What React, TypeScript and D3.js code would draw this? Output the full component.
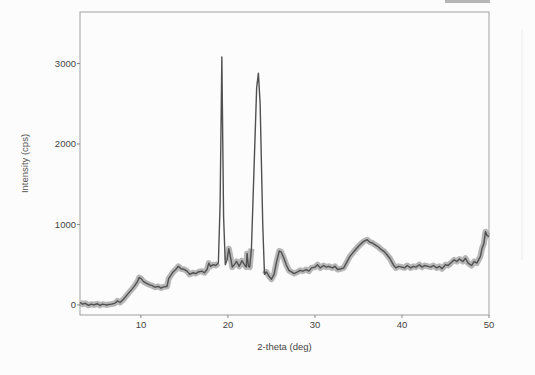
import React from "react";
import * as d3 from "d3";

const twoTheta = [
  3, 3.3, 3.6, 4, 4.3, 4.6, 5, 5.3, 5.6, 6, 6.3, 6.6, 7, 7.3, 7.6, 8, 8.3, 8.6, 9, 9.3, 9.6, 9.8, 10, 10.3, 10.6, 11, 11.3, 11.6,
  12, 12.3, 12.6, 13, 13.2, 13.4, 13.7, 14, 14.3, 14.6, 15, 15.3, 15.6, 16, 16.3, 16.6, 17, 17.3, 17.6, 17.8, 18, 18.3, 18.6, 18.9,
  19.1, 19.3, 19.5, 19.7, 19.9, 20.1, 20.3, 20.5, 20.8, 21, 21.3, 21.6, 21.9, 22.1, 22.2, 22.35, 22.5, 22.7, 23, 23.3, 23.5, 23.7,
  24, 24.2, 24.4, 24.7, 25, 25.3, 25.6, 25.9, 26.1, 26.4, 26.7, 27, 27.3, 27.6, 28, 28.3, 28.6, 29, 29.3, 29.6, 30, 30.3, 30.6,
  31, 31.3, 31.6, 32, 32.3, 32.6, 33, 33.3, 33.6, 34, 34.3, 34.6, 35, 35.3, 35.6, 36, 36.3, 36.6, 37, 37.3, 37.6, 38, 38.3, 38.6,
  39, 39.3, 39.6, 40, 40.3, 40.6, 41, 41.3, 41.6, 42, 42.3, 42.6, 43, 43.3, 43.6, 44, 44.3, 44.6, 45, 45.3, 45.6, 46, 46.3, 46.6,
  47, 47.3, 47.6, 48, 48.3, 48.6, 49, 49.2, 49.4, 49.6, 49.8, 50,
];
const intensity = [
  30, 10, 20, -5, 10, 0, 15, -5, 10, 0, 5, 10, 20, 50, 30, 70, 110, 150, 200, 240, 290, 340, 330, 290, 270, 250, 240, 220,
  230, 210, 225, 230, 330, 360, 410, 440, 480, 450, 440, 420, 380, 400, 390, 410, 420, 400, 440, 520, 480, 500, 490, 520,
  1250, 3080, 1100, 500, 560, 700, 590, 470, 510, 540, 480, 550, 500, 470, 640, 480, 470, 700, 1700, 2700, 2880, 2500,
  1000, 380, 410, 360, 320, 380, 540, 670, 660, 590, 500, 430, 410, 390, 410, 430, 420, 440, 420, 460, 470, 500, 460,
  490, 470, 480, 460, 480, 440, 450, 460, 520, 600, 640, 680, 730, 760, 790, 810, 780, 770, 740, 720, 690, 660, 620, 580,
  500, 460, 480, 470, 460, 490, 460, 480, 470, 500, 470, 490, 480, 470, 490, 460, 480, 450, 500, 490, 520, 560, 540, 570,
  540, 580, 520, 490, 540, 520, 600, 700, 760, 910, 860, 850,
];
const xTicks = [10, 20, 30, 40, 50];
const yTicks = [0, 1000, 2000, 3000];
const peakRanges = [[19.0, 19.8], [22.75, 24.1]];

export default function App() {
  const W = 535, H = 375;
  const left = 80, right = 489, top = 12, bottom = 315;
  const x = d3.scaleLinear().domain([3, 50]).range([left, right]);
  const y = d3.scaleLinear().domain([-125, 3640]).range([bottom, top]);
  const pts: [number, number][] = twoTheta.map((t, i) => [t, intensity[i]]);
  const inPeak = (t: number) => peakRanges.some(([a, b]) => t > a && t < b);
  const core = d3.line<[number, number]>().x(d => x(d[0])).y(d => y(d[1]))(pts) || "";
  const band = d3
    .line<[number, number]>()
    .defined(d => !inPeak(d[0]))
    .x(d => x(d[0]))
    .y(d => y(d[1]))(pts) || "";
  const font = "'Liberation Sans', Arial, sans-serif";
  return (
    <svg width={W} height={H} style={{ position: "absolute", left: 0, top: 0 }}>
      <rect x={0} y={0} width={W} height={H} fill="#fcfcfc" />
      <rect x={445} y={0} width={45} height={3} fill="#999" opacity={0.7} />
      <line x1={522} y1={30} x2={522} y2={260} stroke="#ececec" strokeWidth={1} />
      <rect x={left} y={top} width={right - left} height={bottom - top} fill="none" stroke="#a0a0a0" strokeWidth={1} />
      {yTicks.map(v => (
        <g key={v}>
          <line x1={left - 3} x2={left} y1={y(v)} y2={y(v)} stroke="#888" />
          <text x={left - 4} y={y(v) + 3.5} fontSize={9.5} textAnchor="end" fill="#444" fontFamily={font}>
            {v}
          </text>
        </g>
      ))}
      {xTicks.map(v => (
        <g key={v}>
          <line x1={x(v)} x2={x(v)} y1={bottom} y2={bottom + 3} stroke="#888" />
          <text x={x(v)} y={bottom + 13} fontSize={9.5} textAnchor="middle" fill="#444" fontFamily={font}>
            {v}
          </text>
        </g>
      ))}
      <text x={(left + right) / 2} y={350} fontSize={9.5} textAnchor="middle" fill="#444" fontFamily={font}>
        2-theta (deg)
      </text>
      <text
        transform={`translate(28, ${(top + bottom) / 2}) rotate(-90)`}
        fontSize={9.5}
        textAnchor="middle"
        fill="#555"
        fontFamily={font}
      >
        Intensity (cps)
      </text>
      <path d={band} fill="none" stroke="#999" strokeWidth={6} strokeLinejoin="round" opacity={0.7} />
      <path d={core} fill="none" stroke="#505050" strokeWidth={1.4} strokeLinejoin="round" />
    </svg>
  );
}
